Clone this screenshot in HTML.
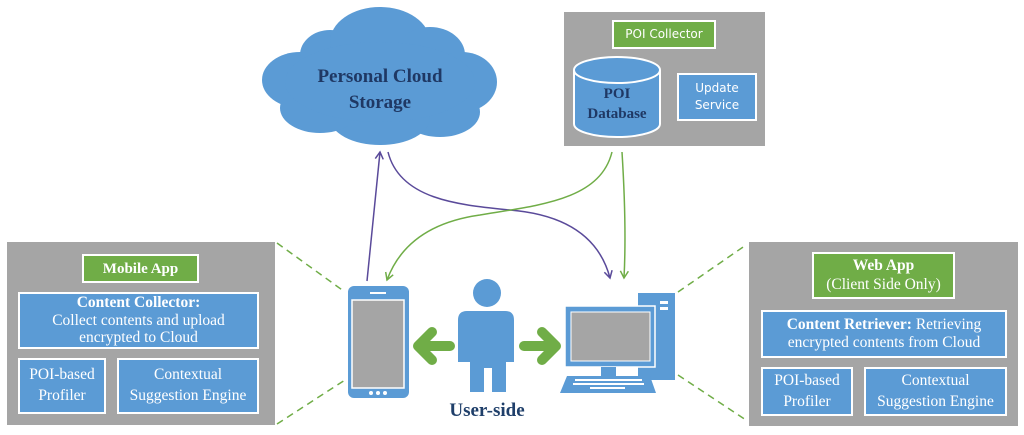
<!DOCTYPE html>
<html><head><meta charset="utf-8"><style>
body{margin:0;width:1024px;height:435px;background:#fff;overflow:hidden;position:relative;font-family:"Liberation Serif",serif}
.a{position:absolute;box-sizing:border-box}
.g{background:#a5a5a5}
.b{background:#5b9bd5;border:2px solid #fff;color:#fff;text-align:center;display:flex;flex-direction:column;justify-content:center;line-height:1.15}
.gr{background:#70ad47;border:2px solid #fff;color:#fff;text-align:center;display:flex;flex-direction:column;justify-content:center;line-height:1.2}
</style></head><body>
<svg class="a" style="left:0;top:0" width="1024" height="435">
<defs>
<marker id="mp" markerWidth="10" markerHeight="10" refX="8" refY="5" orient="auto" markerUnits="userSpaceOnUse"><path d="M1,1 L8,5 L1,9" fill="none" stroke="#5a4a9a" stroke-width="1.5"/></marker>
<marker id="mg" markerWidth="10" markerHeight="10" refX="8" refY="5" orient="auto" markerUnits="userSpaceOnUse"><path d="M1,1 L8,5 L1,9" fill="none" stroke="#70ad47" stroke-width="1.5"/></marker>
</defs>
<g fill="#5b9bd5">
<ellipse cx="300" cy="80" rx="38" ry="28"/>
<ellipse cx="330" cy="55" rx="30" ry="25"/>
<ellipse cx="380" cy="42" rx="50" ry="35"/>
<ellipse cx="430" cy="55" rx="35" ry="28"/>
<ellipse cx="462" cy="82" rx="35" ry="30"/>
<ellipse cx="440" cy="112" rx="40" ry="25"/>
<ellipse cx="380" cy="118" rx="50" ry="27"/>
<ellipse cx="320" cy="108" rx="40" ry="25"/>
<ellipse cx="380" cy="82" rx="95" ry="40"/>
</g>
<path d="M367,281 C372,230 376,190 380,152" fill="none" stroke="#5a4a9a" stroke-width="1.5" marker-end="url(#mp)"/>
<path d="M388,152 C400,200 460,205 510,210 C570,215 600,240 610,278" fill="none" stroke="#5a4a9a" stroke-width="1.5" marker-end="url(#mp)"/>
<path d="M612,152 C600,200 540,205 480,215 C430,222 400,245 387,280" fill="none" stroke="#70ad47" stroke-width="1.5" marker-end="url(#mg)"/>
<path d="M622,152 C625,200 626,240 624,278" fill="none" stroke="#70ad47" stroke-width="1.5" marker-end="url(#mg)"/>
<g stroke="#70ad47" stroke-width="1.5" stroke-dasharray="7,5" fill="none">
<path d="M277,243 L345,292"/><path d="M277,424 L345,380"/>
<path d="M678,292 L746,245"/><path d="M678,375 L746,420"/>
</g>
<rect x="564" y="12" width="201" height="134" fill="#a5a5a5"/>
<path d="M574,70 L574,124 A43,13 0 0 0 660,124 L660,70" fill="#5b9bd5" stroke="#fff" stroke-width="2"/>
<ellipse cx="617" cy="70" rx="43" ry="13" fill="#5b9bd5" stroke="#fff" stroke-width="2"/>
<rect x="348" y="286" width="61" height="112" rx="6" fill="#5b9bd5"/>
<rect x="352" y="300" width="52" height="88" fill="#a5a5a5" stroke="#fff" stroke-width="1.5"/>
<rect x="370" y="292" width="16" height="2" fill="#fff"/>
<circle cx="371" cy="393" r="2" fill="#fff"/><circle cx="378" cy="393" r="2" fill="#fff"/><circle cx="385" cy="393" r="2" fill="#fff"/>
<g fill="#5b9bd5">
<circle cx="487" cy="293" r="14"/>
<path d="M458,362 L458,320 Q458,311 467,311 L505,311 Q514,311 514,320 L514,362 L506,362 L506,392 L492,392 L492,368 L484,368 L484,392 L470,392 L470,362 Z"/>
</g>
<g stroke="#70ad47" stroke-width="10" stroke-linecap="round" stroke-linejoin="round" fill="none">
<path d="M450,346 L418,346 M432,332 L418,346 L432,360"/>
<path d="M524,346 L556,346 M542,332 L556,346 L542,360"/>
</g>
<rect x="638" y="293" width="37" height="87" fill="#5b9bd5"/>
<rect x="660" y="301" width="8" height="3" fill="#fff"/><rect x="660" y="307" width="8" height="3" fill="#fff"/>
<rect x="565" y="306" width="90" height="61" fill="#5b9bd5" stroke="#fff" stroke-width="1.5"/>
<rect x="571" y="312" width="79" height="49" fill="#a5a5a5" stroke="#fff" stroke-width="1"/>
<rect x="601" y="367" width="15" height="9" fill="#5b9bd5"/>
<path d="M567,376 L650,376 L656,393 L560,393 Z" fill="#5b9bd5"/>
<g fill="#fff"><rect x="575" y="379" width="67" height="2"/><rect x="573" y="383" width="71" height="2"/><rect x="590" y="387" width="35" height="2"/></g>
</svg>
<div class="a" style="left:262px;top:64px;width:236px;text-align:center;font-weight:bold;font-size:19px;color:#1f3864;line-height:26px">Personal Cloud<br>Storage</div>

<div class="a gr" style="left:612px;top:20px;width:104px;height:29px;font-family:'DejaVu Sans',sans-serif;font-size:12px">POI Collector</div>
<div class="a" style="left:573px;top:84px;width:88px;text-align:center;font-weight:bold;font-size:15px;color:#1f3864;line-height:20px">POI<br>Database</div>
<div class="a b" style="left:677px;top:73px;width:80px;height:48px;font-family:'DejaVu Sans',sans-serif;font-size:12px;line-height:1.4">Update<br>Service</div>

<div class="a g" style="left:7px;top:242px;width:268px;height:183px"></div>
<div class="a gr" style="left:82px;top:254px;width:117px;height:29px;font-weight:bold;font-size:15px">Mobile App</div>
<div class="a b" style="left:18px;top:292px;width:241px;height:57px;font-size:15.5px"><b>Content Collector:</b>Collect contents and upload<br>encrypted to Cloud</div>
<div class="a b" style="left:18px;top:358px;width:88px;height:56px;font-size:15.5px;line-height:1.35">POI-based<br>Profiler</div>
<div class="a b" style="left:117px;top:358px;width:142px;height:56px;font-size:15.5px;line-height:1.35">Contextual<br>Suggestion Engine</div>

<div class="a g" style="left:749px;top:242px;width:269px;height:184px"></div>
<div class="a gr" style="left:812px;top:252px;width:143px;height:47px;font-size:15.5px"><b>Web App</b>(Client Side Only)</div>
<div class="a b" style="left:761px;top:310px;width:246px;height:48px;font-size:15.5px"><span><b>Content Retriever:</b> Retrieving<br>encrypted contents from Cloud</span></div>
<div class="a b" style="left:761px;top:367px;width:92px;height:49px;font-size:15.5px;line-height:1.35">POI-based<br>Profiler</div>
<div class="a b" style="left:864px;top:367px;width:143px;height:49px;font-size:15.5px;line-height:1.35">Contextual<br>Suggestion Engine</div>

<div class="a" style="left:427px;top:400px;width:120px;text-align:center;font-weight:bold;font-size:19px;color:#1f3f6a">User-side</div>
</body></html>
